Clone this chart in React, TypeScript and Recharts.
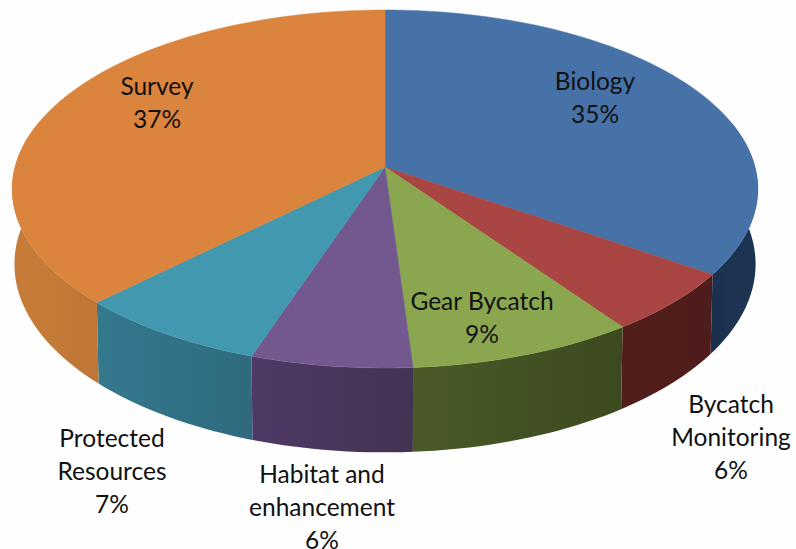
import { Pie, PieChart } from "recharts";

const categories = ["Biology", "Bycatch Monitoring", "Gear Bycatch", "Habitat and enhancement", "Protected Resources", "Survey"];
const shares = [34.6, 5.6, 8.74, 6.22, 7.44, 37.4];

// label layout, one line list per slice
const labelLines = [["Biology"], ["Bycatch", "Monitoring"], ["Gear Bycatch"], ["Habitat and", "enhancement"], ["Protected", "Resources"], ["Survey"]];
const labelAnchors = [
  [595, 90],
  [731, 413],
  [482, 310],
  [322, 483],
  [112, 447],
  [157, 95]
];

const topColors = ["#4672A8", "#A94644", "#8AA64F", "#72588F", "#4198AF", "#DB843D"];
const wallColors = [
  ["#1C3352", "#1A304C"],
  ["#4E1C1A", "#521E1B"],
  ["#3C4A1F", "#4A5A27"],
  ["#443352", "#4E3A66"],
  ["#2F6A7E", "#35798F"],
  ["#BE7636", "#C67C38"]
];

const WIDTH = 796;
const HEIGHT = 549;

// fake 3D: tilt + perspective on the circle recharts gives us
const TILT = 0.4765;
const PERSPECTIVE = 0.1229;
const DEPTH = 74;

function project(cx: number, cy: number, r: number, theta: number, bottom: boolean) {
  const rad = (theta * Math.PI) / 180;
  const s = 1 / (1 + PERSPECTIVE * Math.cos(rad));
  const shrink = bottom ? 0.994 : 1;
  return {
    x: cx + r * Math.sin(rad) * s * shrink,
    y: cy - r * TILT * Math.cos(rad) * s + (bottom ? DEPTH * s : 0)
  };
}

function arc(cx: number, cy: number, r: number, from: number, to: number, bottom: boolean) {
  const pts: string[] = [];
  const steps = Math.max(2, Math.ceil(Math.abs(to - from) / 1.5));
  for (let i = 0; i <= steps; i++) {
    const p = project(cx, cy, r, from + ((to - from) * i) / steps, bottom);
    pts.push(`${p.x.toFixed(2)} ${p.y.toFixed(2)}`);
  }
  return pts;
}

function Slice3D(props: any) {
  const { cx, cy, outerRadius, startAngle, endAngle, index } = props;
  const from = 90 - startAngle;
  const to = 90 - endAngle;
  const top = topColors[index];
  const wallFrom = Math.max(from, 75);
  const wallTo = Math.min(to, 285);
  const hasWall = wallTo > wallFrom;
  const gid = `wall-${index}`;
  const a = project(cx, cy, outerRadius, wallFrom, false);
  const b = project(cx, cy, outerRadius, wallTo, false);

  return (
    <g>
      {hasWall && (
        <>
          <defs>
            <linearGradient id={gid} gradientUnits="userSpaceOnUse" x1={a.x} y1={0} x2={b.x} y2={0}>
              <stop offset="0%" stopColor={wallColors[index][0]} />
              <stop offset="100%" stopColor={wallColors[index][1]} />
            </linearGradient>
          </defs>
          <path
            d={`M${arc(cx, cy, outerRadius, wallFrom, wallTo, false).join("L")}L${arc(cx, cy, outerRadius, wallTo, wallFrom, true).join("L")}Z`}
            fill={`url(#${gid})`}
          />
        </>
      )}
      <path
        d={`M${cx} ${cy}L${arc(cx, cy, outerRadius, from, to, false).join("L")}Z`}
        fill={top}
        stroke={top}
        strokeWidth={0.5}
      />
    </g>
  );
}

function SliceLabel(props: any) {
  const { index } = props;
  const [x, y] = labelAnchors[index];
  const lines = [...labelLines[index], `${Math.round(shares[index])}%`];
  return (
    <text x={x} y={y} textAnchor="middle" fontFamily="Lato" fontSize={24.5} fill="#111">
      {lines.map((line, i) => (
        <tspan key={line} x={x} dy={i === 0 ? 0 : 33}>
          {line}
        </tspan>
      ))}
    </text>
  );
}

const pieData = categories.map((name, i) => ({ name, value: shares[i] }));

export default function App() {
  return (
    <div style={{ position: "absolute", left: 0, top: 0, width: WIDTH, height: HEIGHT, background: "#fefefe" }}>
      <PieChart width={WIDTH} height={HEIGHT} margin={{ top: 0, right: 0, bottom: 0, left: 0 }}>
        <Pie
          data={pieData}
          dataKey="value"
          nameKey="name"
          cx={385}
          cy={167}
          outerRadius={370}
          startAngle={90}
          endAngle={-270}
          stroke="none"
          shape={Slice3D}
          label={SliceLabel}
          labelLine={false}
          isAnimationActive={false}
        />
      </PieChart>
    </div>
  );
}
